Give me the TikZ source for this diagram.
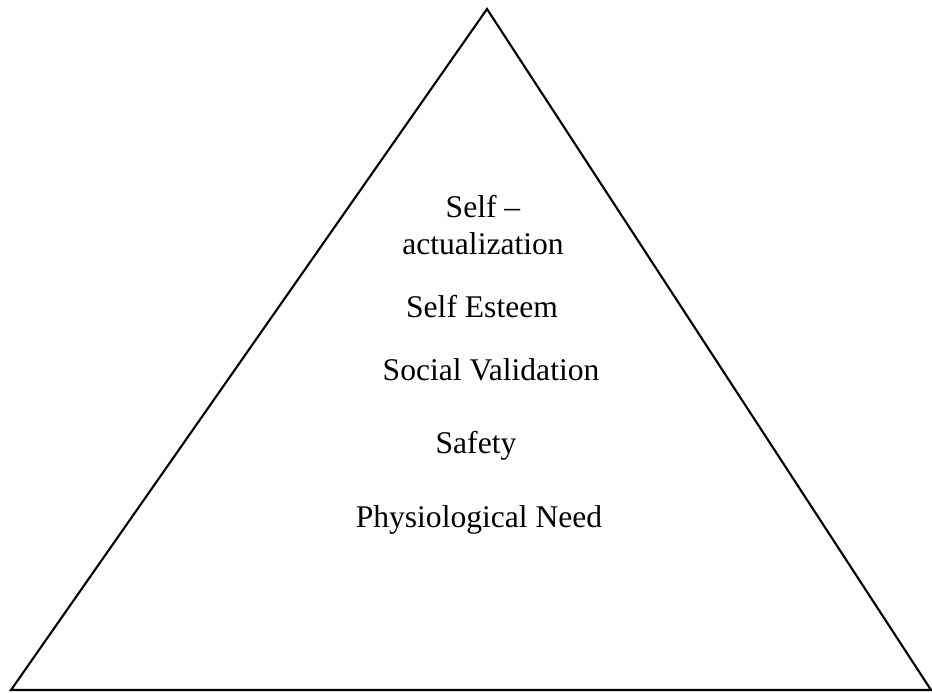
\documentclass[tikz,border=0pt]{standalone}
\usepackage{fontspec}
\setmainfont{Liberation Serif}
\usepackage{tikz}

\begin{document}
\begin{tikzpicture}[
    x=0.38pt, y=-0.38pt,
    line width=0.8pt,
    font=\fontsize{12}{13.8}\selectfont,
    level/.style={anchor=base, inner sep=0pt, align=center}
]

    % page size
    \useasboundingbox (0,0) rectangle (932,692);

    % Pyramid
    \coordinate (top) at (487,9);
    \coordinate (left) at (11,690);
    \coordinate (right) at (931,690);
    \draw (top) -- (right) -- (left) -- cycle;

    % Levels, top to bottom (base = last line)
    \node[level] (actual) at (483,254) {Self --\\actualization};
    \node[level] (esteem) at (482,317) {Self Esteem};
    \node[level] (social) at (491,380) {Social Validation};
    \node[level] (safety) at (476,453) {Safety};
    \node[level] (physio) at (479,527) {Physiological Need};

\end{tikzpicture}
\end{document}
